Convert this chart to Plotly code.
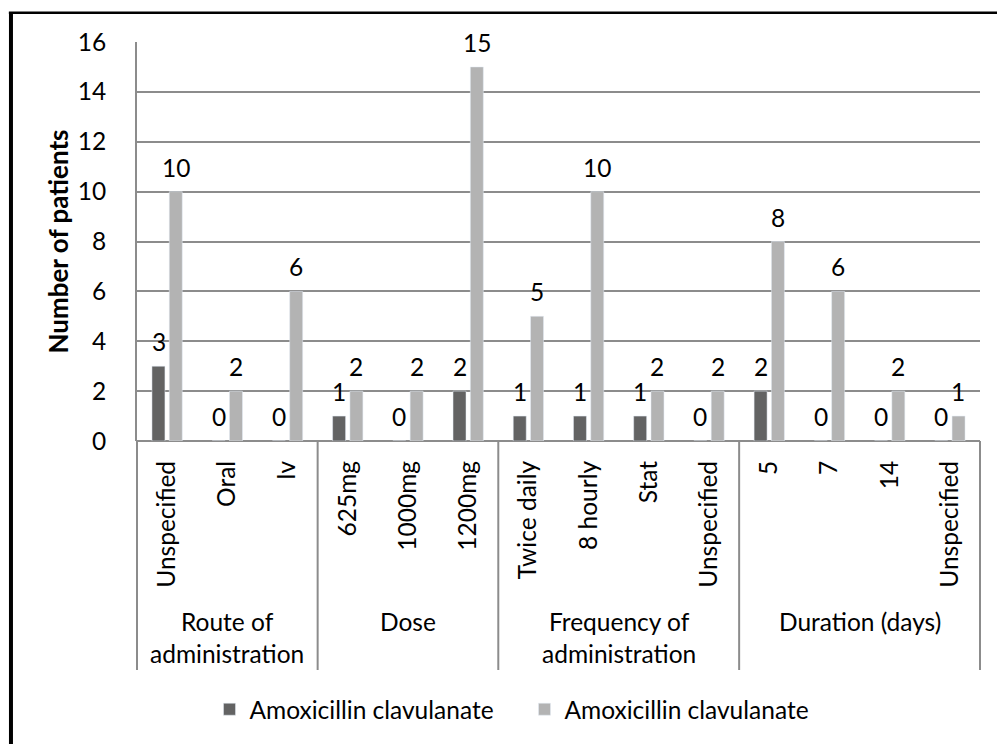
import plotly.graph_objects as go

# Chart data
groups = ["Route of<br>administration", "Dose", "Frequency of<br>administration", "Duration (days)"]
group_sizes = [3, 3, 4, 4]
subcategories = ["Unspecified", "Oral", "Iv",
                 "625mg", "1000mg", "1200mg",
                 "Twice daily", "8 hourly", "Stat", "Unspecified",
                 "5", "7", "14", "Unspecified"]
series_names = ["Amoxicillin clavulanate", "Amoxicillin clavulanate"]
series_a = [3, 0, 0, 1, 0, 2, 1, 1, 1, 0, 2, 0, 0, 0]
series_b = [10, 2, 6, 2, 2, 15, 5, 10, 2, 2, 8, 6, 2, 1]
y_ticks = [0, 2, 4, 6, 8, 10, 12, 14, 16]

FONT = "Lato"
FS = 24.5
DARK = "#636363"
LIGHT = "#b3b3b3"
GRID = "#8c8c8c"

x_pos = list(range(len(subcategories)))
n = len(subcategories)

fig = go.Figure()
fig.add_trace(go.Bar(x=x_pos, y=series_a, name=series_names[0], marker_color=DARK))
fig.add_trace(go.Bar(x=x_pos, y=series_b, name=series_names[1], marker_color=LIGHT))

# Value labels above each bar
annotations = []
for vals, shift in ((series_a, -8.6), (series_b, 8.6)):
    for i, v in enumerate(vals):
        annotations.append(dict(x=i, y=v, xref="x", yref="y", text=str(v),
                                showarrow=False, xshift=shift, yshift=8,
                                yanchor="bottom", font=dict(family=FONT, size=FS, color="black")))

# Group labels and the dividers between groups
shapes = []
bounds = [-0.5]
for s in group_sizes:
    bounds.append(bounds[-1] + s)
for g, (lo, hi) in zip(groups, zip(bounds[:-1], bounds[1:])):
    annotations.append(dict(x=(lo + hi) / 2, y=-0.4115, xref="x", yref="paper", text=g,
                            showarrow=False, yanchor="top", align="center",
                            font=dict(family=FONT, size=FS, color="black")))
for b in bounds:
    shapes.append(dict(type="line", xref="x domain", yref="paper",
                       x0=(b + 0.5) / n, x1=(b + 0.5) / n, y0=0, y1=-0.574,
                       line=dict(color=GRID, width=2)))

# Outer frame (left and top edges)
shapes.append(dict(type="line", xref="paper", yref="paper", x0=-0.1495, x1=-0.1495,
                   y0=1.075, y1=-0.76, line=dict(color="black", width=4)))
shapes.append(dict(type="line", xref="paper", yref="paper", x0=-0.152, x1=1.03,
                   y0=1.0735, y1=1.0735, line=dict(color="black", width=2.5)))

fig.update_layout(
    width=997, height=744,
    margin=dict(l=137, r=17, t=42, b=301),
    paper_bgcolor="white", plot_bgcolor="white",
    barmode="group", bargap=0.425, bargroupgap=0.25,
    font=dict(family=FONT, size=FS, color="black"),
    showlegend=True,
    legend=dict(orientation="h", x=0.086, xanchor="left", y=-0.616, yanchor="top",
                font=dict(family=FONT, size=FS, color="black"),
                entrywidth=270, entrywidthmode="pixels", traceorder="normal"),
    annotations=annotations,
    shapes=shapes,
)

fig.update_xaxes(
    range=[-0.5, n - 0.5],
    tickmode="array", tickvals=x_pos, ticktext=subcategories,
    tickangle=-90, ticks="", showgrid=False, zeroline=False,
    showline=False, ticklabelstandoff=14,
    tickfont=dict(family=FONT, size=FS, color="black"),
)
fig.update_yaxes(
    range=[0, 16], tickmode="array", tickvals=y_ticks,
    showgrid=True, gridcolor=GRID, gridwidth=2,
    zeroline=True, zerolinecolor=GRID, zerolinewidth=2,
    showline=True, linecolor=GRID, linewidth=2,
    ticks="", ticklabelstandoff=24,
    tickfont=dict(family=FONT, size=FS, color="black"),
    title=dict(text="<b>Number of patients</b>", standoff=2,
               font=dict(family=FONT, size=26, color="black")),
)

fig.write_html("out.html")
